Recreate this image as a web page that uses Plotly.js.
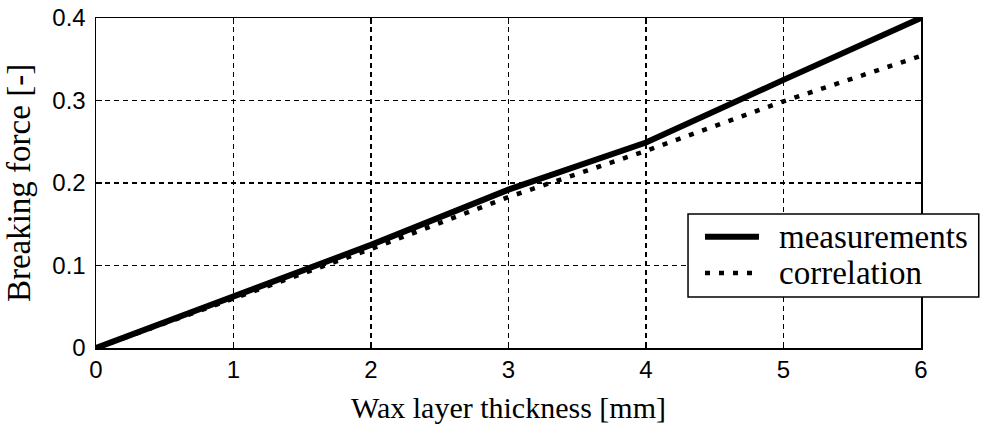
<!DOCTYPE html>
<html>
<head>
<meta charset="utf-8">
<script src="https://cdn.plot.ly/plotly-3.0.1.min.js"></script>
<style>html,body{margin:0;padding:0;background:#fff;}#chart{width:982px;height:428px;}</style>
</head>
<body>
<div id="chart"></div>
<script>
// Data
var thickness = [0, 1, 2, 3, 4, 5, 6];
var measurements = [0, 0.062, 0.125, 0.192, 0.249, 0.325, 0.4];
var correlation = [0, 0.06, 0.12, 0.183, 0.239, 0.299, 0.354];
var seriesNames = ["measurements", "correlation"];
var xTicks = [0, 1, 2, 3, 4, 5, 6];
var yTicks = [0, 0.1, 0.2, 0.3, 0.4];
var yTickLabels = ["0", "0.1", "0.2", "0.3", "0.4"];

var traces = [
  {x: thickness, y: correlation, mode: "lines", name: seriesNames[1],
   line: {color: "#000", width: 4.5, dash: "5px,9px"}},
  {x: thickness, y: measurements, mode: "lines", name: seriesNames[0],
   line: {color: "#000", width: 6}}
];

// legend drawn with shapes (longer sample lines than Plotly's default legend)
var lx0 = 0.7176, lx1 = 1.07, ly0 = 0.1545, ly1 = 0.406;
var shapes = [
  {type: "rect", xref: "paper", yref: "paper", x0: lx0, x1: lx1, y0: ly0, y1: ly1,
   line: {color: "#000", width: 1.5}, fillcolor: "#fff", layer: "above"},
  {type: "line", xref: "paper", yref: "paper", x0: 0.7382, x1: 0.8036, y0: 0.3375, y1: 0.3375,
   line: {color: "#000", width: 6}, layer: "above"},
  {type: "line", xref: "paper", yref: "paper", x0: 0.7382, x1: 0.8036, y0: 0.2273, y1: 0.2273,
   line: {color: "#000", width: 4.5, dash: "5px,9px"}, layer: "above"}
];
var annotations = [
  {xref: "paper", yref: "paper", x: 0.8255, y: 0.3375, xanchor: "left", yanchor: "middle",
   text: seriesNames[0], showarrow: false, font: {family: "Liberation Serif", size: 33, color: "#000"}},
  {xref: "paper", yref: "paper", x: 0.8255, y: 0.2273, xanchor: "left", yanchor: "middle",
   text: seriesNames[1], showarrow: false, font: {family: "Liberation Serif", size: 33, color: "#000"}}
];

var axisCommon = {
  showline: true, linecolor: "#000", linewidth: 1.5, mirror: "ticks",
  ticks: "inside", ticklen: 6, tickcolor: "#000", tickwidth: 1.2,
  showgrid: true, gridcolor: "#000", gridwidth: 1.2, griddash: "5px,4px",
  zeroline: false,
  tickfont: {family: "Liberation Sans", size: 24, color: "#000"}
};

var layout = {
  width: 982, height: 428,
  margin: {l: 96, r: 61, t: 18, b: 80},
  paper_bgcolor: "#fff", plot_bgcolor: "#fff",
  showlegend: false,
  xaxis: Object.assign({}, axisCommon, {
    range: [0, 6], tickvals: xTicks, ticktext: xTicks.map(String),
    title: {text: "Wax layer thickness [mm]", font: {family: "Liberation Serif", size: 30, color: "#000"}, standoff: 14}
  }),
  yaxis: Object.assign({}, axisCommon, {
    range: [0, 0.4], tickvals: yTicks, ticktext: yTickLabels, ticklabelstandoff: 4,
    title: {text: "Breaking force [-]", font: {family: "Liberation Serif", size: 33, color: "#000"}, standoff: 12}
  }),
  shapes: shapes,
  annotations: annotations
};

Plotly.newPlot("chart", traces, layout, {displayModeBar: false, staticPlot: true});
</script>
</body>
</html>
